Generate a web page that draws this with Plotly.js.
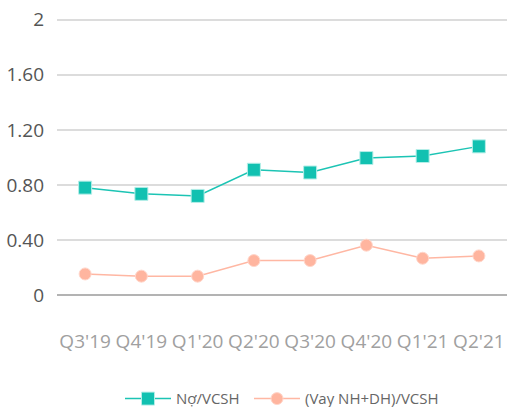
<!DOCTYPE html>
<html><head><meta charset="utf-8">
<script src="https://cdn.plot.ly/plotly-3.0.1.min.js"></script>
<style>html,body{margin:0;padding:0;background:#fff}#c{width:507px;height:407px}</style>
</head><body><div id="c"></div>
<script>
const categories = ["Q3'19","Q4'19","Q1'20","Q2'20","Q3'20","Q4'20","Q1'21","Q2'21"];
const noVCSH = [0.78, 0.735, 0.72, 0.91, 0.89, 0.995, 1.01, 1.08];
const vayVCSH = [0.153, 0.137, 0.137, 0.25, 0.25, 0.362, 0.267, 0.284];
const yTickVals = [0, 0.4, 0.8, 1.2, 1.6, 2];
const yTickText = ["0", "0.40", "0.80", "1.20", "1.60", "2"];
const names = ["Nợ/VCSH", "(Vay NH+DH)/VCSH"];

const traces = [
  {x: categories, y: noVCSH, name: names[0], type: 'scatter', mode: 'lines+markers', legend: 'legend',
   line: {color: '#1cc4b4', width: 1.5},
   marker: {symbol: 'square', size: 13, color: '#12c1b1', line: {color: '#b5eee8', width: 1}}},
  {x: categories, y: vayVCSH, name: names[1], type: 'scatter', mode: 'lines+markers', legend: 'legend2',
   line: {color: '#ffb7a3', width: 1.5},
   marker: {symbol: 'circle', size: 12, color: '#ffb59f', line: {color: '#ffd6ca', width: 1}}}
];

const legBase = {orientation: 'h', xref: 'container', yref: 'container',
                 xanchor: 'left', y: 0.02, yanchor: 'middle', itemwidth: 46,
                 font: {size: 15, color: '#666'}, bgcolor: 'rgba(0,0,0,0)'};

const layout = {
  width: 507, height: 407,
  margin: {l: 57, r: 0, t: 17, b: 112},
  paper_bgcolor: '#fff', plot_bgcolor: '#fff',
  font: {family: '"Open Sans", Arial, sans-serif'},
  showlegend: true,
  legend: Object.assign({}, legBase, {x: 120 / 507}),
  legend2: Object.assign({}, legBase, {x: 249 / 507}),
  xaxis: {type: 'category', showgrid: false, zeroline: false, showline: false,
          ticks: '', ticklabelstandoff: 33, automargin: false, tickangle: 0,
          tickfont: {size: 19, color: '#a0a0a0'}, range: [-0.5, 7.5]},
  yaxis: {range: [0, 2.02], tickvals: yTickVals, ticktext: yTickText,
          showgrid: true, gridcolor: '#dcdcdc', gridwidth: 2.5,
          zeroline: true, zerolinecolor: '#b3b3b3', zerolinewidth: 2.5,
          showline: false, ticks: '', ticklabelstandoff: 12, automargin: false,
          tickfont: {size: 19, color: '#555'}}
};
Plotly.newPlot('c', traces, layout, {displayModeBar: false, staticPlot: true});
</script></body></html>
